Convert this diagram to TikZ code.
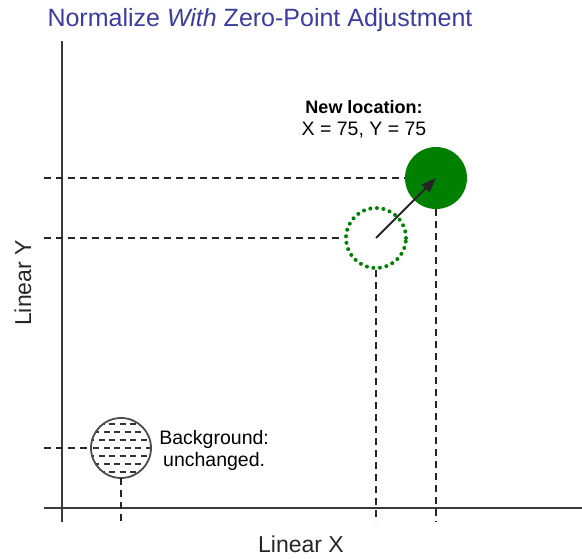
\documentclass[tikz,border=0pt]{standalone}
\usepackage{fontspec}
\setmainfont{Liberation Sans}
\usepackage{tikz}
\usetikzlibrary{arrows.meta,positioning,calc}
\definecolor{titleblue}{HTML}{3C3CA0}
\definecolor{spotgreen}{HTML}{008000}
\definecolor{axisgray}{HTML}{3A3A3A}
\tikzset{
  axis/.style={draw=axisgray,line width=2.4pt},
  guide/.style={draw=black!85,line width=1.4pt,dash pattern=on 7pt off 5pt},
  newspot/.style={circle,minimum size=62pt,inner sep=0pt,fill=spotgreen,draw=none},
  oldspot/.style={circle,minimum size=60pt,inner sep=0pt,draw=spotgreen,line width=4pt,
    dash pattern=on 0pt off 6.6pt,line cap=round},
  bgspot/.style={circle,minimum size=60pt,inner sep=0pt,
    path picture={
      \foreach \k in {-3,-1,1,3}
        \draw[black!80,line width=1.2pt,dash pattern=on 6pt off 4.5pt]
          ([shift={(-33,\k*8)}]path picture bounding box.center) -- ++(66,0);
      \foreach \k in {-2,0,2}
        \draw[black!80,line width=1.2pt,dash pattern=on 6pt off 4.5pt]
          ([shift={(-28,\k*8)}]path picture bounding box.center) -- ++(66,0);
    }},
  bgedge/.style={draw=black!70,solid,line width=1.8pt},
  myarrow/.style={-{Triangle[length=15pt,width=11pt]},line width=2pt,black!85},
  note/.style={font=\fontsize{19.5}{22}\selectfont,align=center,inner sep=0pt},
  axlabel/.style={font=\fontsize{23}{27}\selectfont,text=black!85,inner sep=0pt},
}
\begin{document}
\begin{tikzpicture}[x=1pt,y=1pt]
  \useasboundingbox (0,0) rectangle (582,558);
  % title
  \node[font=\fontsize{25}{29}\selectfont,text=titleblue,inner sep=0pt] (title) at (260,538)
    {Normalize \textit{With} Zero-Point Adjustment};
  % axes
  \coordinate (xl) at (44,50);
  \coordinate (xr) at (584,50);
  \coordinate (yt) at (62,517);
  \coordinate (yb) at (62,36);
  \draw[axis] (xl) -- (xr);
  \draw[axis] (yb) -- (yt);
  \node[axlabel] (xlab) at (301,14) {Linear X};
  \node[axlabel,rotate=90] (ylab) at (23,275) {Linear Y};
  % spots
  \node[bgspot] (bg) at (121,110) {};
  \draw[bgedge] (bg.center) circle[radius=30];
  \node[oldspot] (old) at (376,320) {};
  \node[newspot] (new) at (436,380) {};
  % guides
  \coordinate (bgy) at (44,110);
  \coordinate (oldy) at (44,320);
  \coordinate (newy) at (44,380);
  \coordinate (bgx) at (121,36);
  \coordinate (oldx) at (376,36);
  \coordinate (newx) at (436,36);
  \draw[guide] (bgy) -- (bg.west);
  \draw[guide] (bg.south) -- (bgx);
  \draw[guide] (oldy) -- (old.west);
  \draw[guide] (old.south) -- (oldx);
  \draw[guide] (newy) -- (new.west);
  \draw[guide] (new.south) -- (newx);
  \draw[myarrow] (old.center) -- (new.center);
  % labels
  \node[note] (newlab) at (364,439) {\fontsize{18}{22}\selectfont\textbf{New location:}\\X = 75, Y = 75};
  \node[note,right=8pt of bg,yshift=-2pt] (bglab) {Background:\\unchanged.};
\end{tikzpicture}
\end{document}
